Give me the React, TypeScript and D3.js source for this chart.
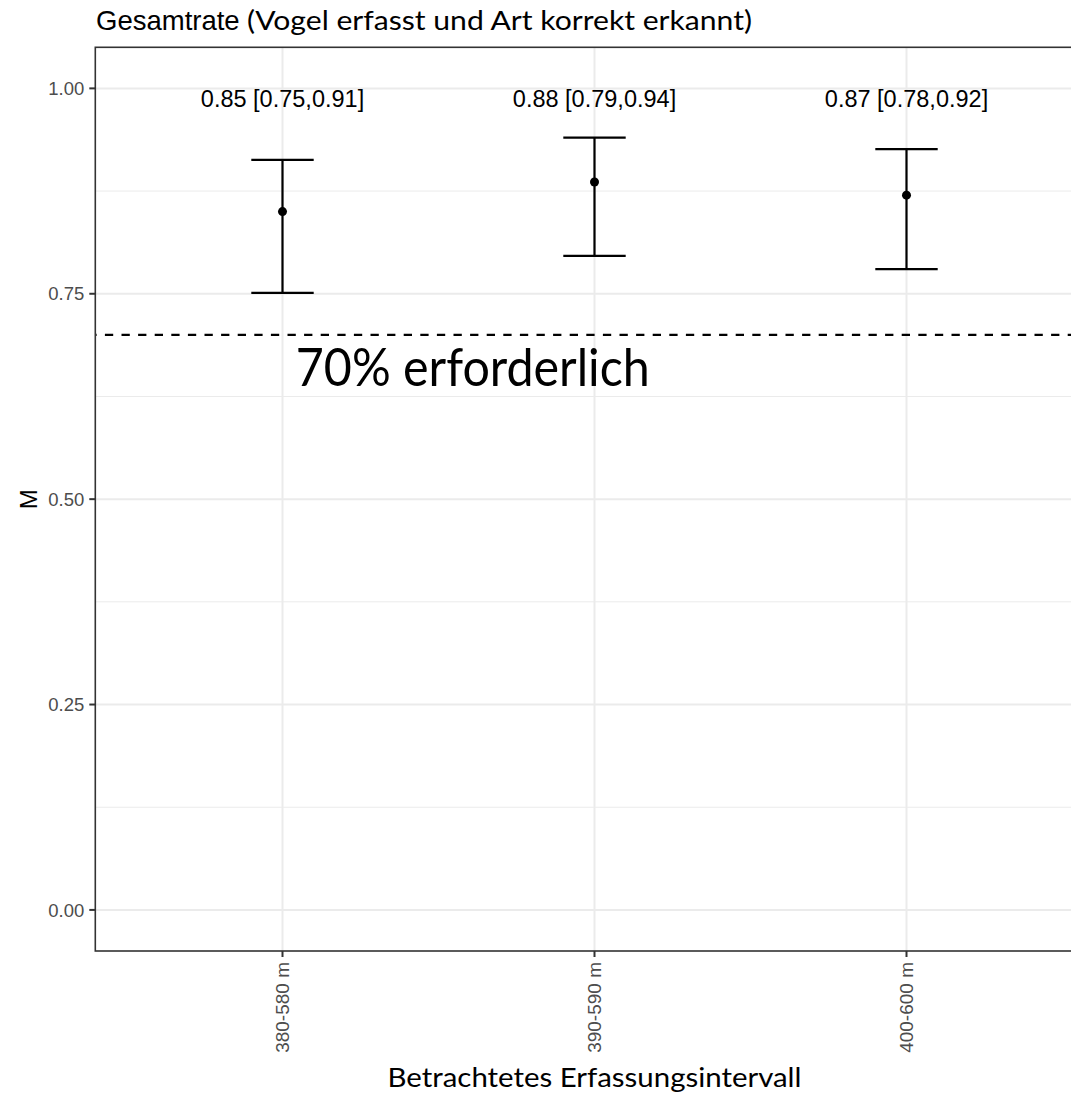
import React from 'react';
import * as d3 from 'd3';

// values
const categories = ['380-580 m', '390-590 m', '400-600 m'];
const means = [0.85, 0.886, 0.87];
const lowers = [0.751, 0.796, 0.78];
const uppers = [0.913, 0.94, 0.926];
const ciLabels = ['0.85 [0.75,0.91]', '0.88 [0.79,0.94]', '0.87 [0.78,0.92]'];
const yTicks = [0, 0.25, 0.5, 0.75, 1];
const yMinorTicks = [0.125, 0.375, 0.625, 0.875];
const threshold = 0.7;
const thresholdLabel = '70% erforderlich';
const thresholdLabelPos = { x: 1.61, y: 0.66 }; // x in category units (1 = first)
const ciLabelY = 0.988;

const titleMain = 'Gesamtrate ';
const titleSub = '(Vogel erfasst und Art korrekt erkannt)';
const xTitle = 'Betrachtetes Erfassungsintervall';
const yTitle = 'M';

const W = 1071;
const H = 1093;
const panel = { left: 95.3, top: 47.3, right: 1093.7, bottom: 951 };

const arial = '"Liberation Sans", Arial, sans-serif';
const calibriLike = 'Lato, "Noto Sans", sans-serif';

function App() {
  const x = d3.scalePoint<string>()
    .domain(categories)
    .range([panel.left, panel.right])
    .padding(0.6);
  const step = x.step();
  // category index (1-based) to pixel, for annotations between categories
  const xi = (v: number) => (x(categories[0]) as number) + (v - 1) * step;

  const y = d3.scaleLinear()
    .domain([-0.05, 1.05])
    .range([panel.bottom, panel.top]);

  const capHalf = step * 0.1;
  const grid = '#EBEBEB';
  const axisCol = '#333333';
  const tickText = '#4D4D4D';

  return (
    <svg width={W} height={H} xmlns="http://www.w3.org/2000/svg"
      style={{ position: 'absolute', left: 0, top: 0, background: '#fff' }}>
      <defs>
        <clipPath id="panelClip">
          <rect x={panel.left} y={panel.top} width={panel.right - panel.left} height={panel.bottom - panel.top} />
        </clipPath>
      </defs>
      <rect x={0} y={0} width={W} height={H} fill="#fff" />

      {/* title */}
      <text x={96} y={30} fill="#000" fontFamily={arial} fontSize={27.5}>{titleMain}</text>
      <text x={247} y={30} fill="#000" fontFamily={calibriLike} fontSize={27.5}
        textLength={505} lengthAdjust="spacingAndGlyphs">{titleSub}</text>

      <g clipPath="url(#panelClip)">
        {yMinorTicks.map((t, i) =>
          <line key={`minor_${i}`} x1={panel.left} x2={panel.right} y1={y(t)} y2={y(t)} stroke={grid} strokeWidth={1} />
        )}
        {yTicks.map((t, i) =>
          <line key={`major_${i}`} x1={panel.left} x2={panel.right} y1={y(t)} y2={y(t)} stroke={grid} strokeWidth={2} />
        )}
        {categories.map((c, i) =>
          <line key={`vgrid_${i}`} x1={x(c)} x2={x(c)} y1={panel.top} y2={panel.bottom} stroke={grid} strokeWidth={2} />
        )}

        {/* threshold */}
        <line x1={panel.left} x2={panel.right} y1={y(threshold)} y2={y(threshold)}
          stroke="#000" strokeWidth={2.2} strokeDasharray="8.3 8.3" strokeDashoffset={7} />

        {/* error bars */}
        {categories.map((c, i) => {
          const cx = x(c) as number;
          return (
            <g key={`err_${i}`} stroke="#000" strokeWidth={2.2}>
              <line x1={cx} x2={cx} y1={y(lowers[i])} y2={y(uppers[i])} />
              <line x1={cx - capHalf} x2={cx + capHalf} y1={y(lowers[i])} y2={y(lowers[i])} />
              <line x1={cx - capHalf} x2={cx + capHalf} y1={y(uppers[i])} y2={y(uppers[i])} />
            </g>
          );
        })}
        {categories.map((c, i) =>
          <circle key={`pt_${i}`} cx={x(c)} cy={y(means[i])} r={4.5} fill="#000" />
        )}

        {categories.map((c, i) =>
          <text key={`ci_${i}`} x={x(c)} y={y(ciLabelY)} dy="0.36em" textAnchor="middle"
            fontFamily={arial} fontSize={23.5} fill="#000">{ciLabels[i]}</text>
        )}

        <text x={xi(thresholdLabelPos.x)} y={y(thresholdLabelPos.y)} dy="0.36em" textAnchor="middle"
          fontFamily={calibriLike} fontSize={52} fill="#000"
          textLength={354} lengthAdjust="spacingAndGlyphs">{thresholdLabel}</text>
      </g>

      {/* panel border */}
      <rect x={panel.left} y={panel.top} width={panel.right - panel.left} height={panel.bottom - panel.top}
        fill="none" stroke={axisCol} strokeWidth={1.6} />

      {/* y axis */}
      {yTicks.map((t, i) =>
        <g key={`yt_${i}`} transform={`translate(${panel.left}, ${y(t)})`}>
          <line x1={-6} x2={0} y1={0} y2={0} stroke={axisCol} strokeWidth={2} />
          <text x={-11} y={0} dy="0.36em" textAnchor="end" fontFamily={arial} fontSize={18.5} fill={tickText}>
            {d3.format('.2f')(t)}
          </text>
        </g>
      )}
      <text transform={`translate(37, ${(panel.top + panel.bottom) / 2}) rotate(-90)`} textAnchor="middle"
        fontFamily={arial} fontSize={24} fill="#000">{yTitle}</text>

      {/* x axis */}
      {categories.map((c, i) =>
        <g key={`xt_${i}`} transform={`translate(${x(c)}, ${panel.bottom})`}>
          <line x1={0} x2={0} y1={0} y2={6} stroke={axisCol} strokeWidth={2} />
          <text transform="translate(0, 11) rotate(-90)" dy="0.36em" textAnchor="end"
            fontFamily={arial} fontSize={19} fill={tickText}>{c}</text>
        </g>
      )}
      <text x={(panel.left + panel.right) / 2} y={1087} textAnchor="middle" fontFamily={calibriLike}
        fontSize={27.5} fill="#000" textLength={414} lengthAdjust="spacingAndGlyphs">{xTitle}</text>
    </svg>
  );
}

export default App;
